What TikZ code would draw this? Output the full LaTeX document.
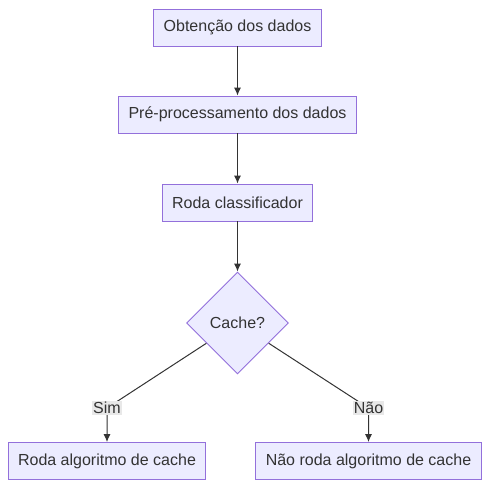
\documentclass[tikz,border=0pt]{standalone}
\usepackage{fontspec}
\setmainfont{Liberation Sans}
\usetikzlibrary{shapes.geometric,arrows.meta}
\definecolor{boxfill}{HTML}{ECECFF}
\definecolor{boxline}{HTML}{9370DB}
\definecolor{ink}{HTML}{333333}
\definecolor{lblfill}{HTML}{E8E8E8}
\tikzset{
  passo/.style={rectangle, draw=boxline, fill=boxfill, text=ink, line width=0.9pt,
    inner xsep=10pt, minimum height=37pt},
  decisao/.style={diamond, aspect=1, draw=boxline, fill=boxfill, text=ink, line width=0.9pt,
    inner sep=0pt, minimum size=102pt},
  rotulo/.style={fill=lblfill, text=ink, inner sep=1pt},
  seta/.style={draw=ink, line width=1pt, -{Latex[length=8pt,width=7pt]}}
}
\begin{document}
\begin{tikzpicture}[x=1pt, y=-1pt, font=\fontsize{16}{19}\selectfont]
\useasboundingbox[fill=white] (0,0) rectangle (489,489);

\node[passo] (obt) at (237.5,27.5){Obtenção dos dados};
\node[passo] (pre) at (237.5,114.5){Pré-processamento dos dados};
\node[passo] (cls) at (237.5,202.5){Roda classificador};

\node[decisao] (cache) at (237.5,323){Cache?};

\node[passo] (sim) at (107,461){Roda algoritmo de cache};
\node[passo] (nao) at (368.5,461){Não roda algoritmo de cache};

\draw[seta](obt) -- (pre);
\draw[seta](pre) -- (cls);
\draw[seta](cls) -- (cache);

\coordinate (lsim) at (107,408);
\coordinate (lnao) at (368.5,408);

\draw[seta](cache) -- (lsim) -- (sim);
\draw[seta](cache) -- (lnao) -- (nao);

\node[rotulo] (tsim) at (lsim){Sim};
\node[rotulo] (tnao) at (lnao){Não};

\end{tikzpicture}
\end{document}
